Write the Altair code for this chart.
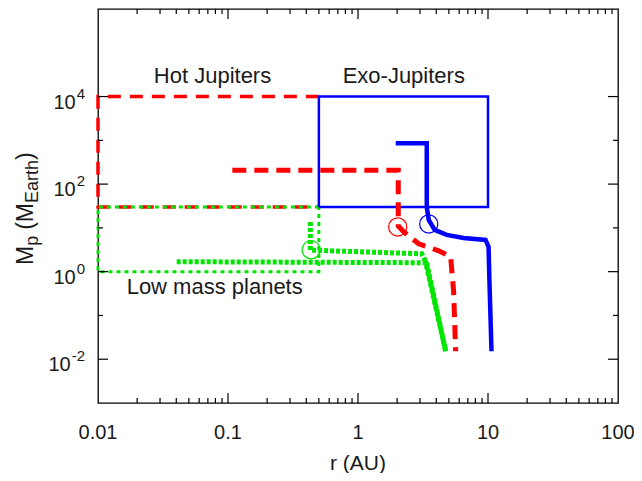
import altair as alt
import pandas as pd

# ---------------- data ----------------
red_box_r = [0.5, 0.01, 0.01, 0.5]
red_box_m = [1e4, 1e4, 30, 30]

green_box_r = [0.5, 0.01, 0.01, 0.5, 0.5]
green_box_m = [30, 30, 1, 1, 30]

blue_box_r = [0.5, 10, 10, 0.5, 0.5]
blue_box_m = [30, 30, 1e4, 1e4, 30]

red_track_r = [0.108, 2.04, 2.04, 2.25, 2.93, 4.18, 5.16, 5.44, 5.64]
red_track_m = [208, 208, 11, 8.1, 4.33, 3.0, 2.19, 0.35, 0.0152]

blue_track_r = [1.95, 3.38, 3.38, 3.5, 3.89, 4.81, 6.49, 9.57, 10.1, 10.26, 10.64]
blue_track_m = [855, 855, 30, 15.2, 9.0, 6.9, 5.9, 5.3, 3.7, 0.59, 0.0152]

green_a_r = [0.43, 0.43, 3.09, 3.38, 4.73]
green_a_m = [13.7, 3.1, 2.56, 1.52, 0.0152]

green_b_r = [0.0403, 3.32, 4.73]
green_b_m = [1.69, 1.60, 0.0152]

circle_names = ["red", "blue", "green"]
circle_r = [2.02, 3.50, 0.436]
circle_m = [10.5, 12.3, 3.16]

label_texts = ["Hot Jupiters", "Exo-Jupiters", "Low mass planets"]
label_r = [0.076, 2.25, 0.079]
label_m = [30000, 30000, 0.457]

x_tick_vals = [0.01, 0.1, 1, 10, 100]
x_tick_text = ["0.01", "0.1", "1", "10", "100"]
y_tick_vals = [1e-2, 1, 1e2, 1e4]
y_tick_exp = ["-2", "0", "2", "4"]
y_minor_vals = [1e-1, 10, 1e3]
x_major_inner = [0.1, 1, 10]
x_minor_vals = [k * d for d in [0.01, 0.1, 1, 10] for k in range(2, 10)]

# ---------------- styling ----------------
W, H = 520, 394
RED, BLUE, GREEN = "#ff0000", "#0000ff", "#00e600"
FONT = "Liberation Sans"
TXT = "#1a1a1a"

xs = alt.Scale(type="log", domain=[0.01, 100], nice=False)
ys = alt.Scale(type="log", domain=[1e-3, 1e6], nice=False)


def line_df(r, m):
    return pd.DataFrame({"r": r, "m": m, "i": list(range(len(r)))})


def line_layer(r, m, color, width, dash=None):
    kw = dict(color=color, strokeWidth=width, strokeCap="butt", strokeJoin="miter")
    if dash is not None:
        kw["strokeDash"] = dash
    return alt.Chart(line_df(r, m)).mark_line(**kw).encode(
        x=alt.X("r:Q", scale=xs, axis=None),
        y=alt.Y("m:Q", scale=ys, axis=None),
        order="i:Q",
    )


layers = []
layers.append(line_layer(red_box_r, red_box_m, RED, 3.5, [13, 9]))
layers.append(line_layer(green_box_r, green_box_m, GREEN, 3, [4, 4]))
layers.append(line_layer(blue_box_r, blue_box_m, BLUE, 2.5))
layers.append(line_layer(red_track_r, red_track_m, RED, 5, [14, 8]))
layers.append(line_layer(green_a_r, green_a_m, GREEN, 5, [4, 2]))
layers.append(line_layer(green_b_r, green_b_m, GREEN, 5, [4, 2]))
layers.append(line_layer(blue_track_r, blue_track_m, BLUE, 4.5))

circ = pd.DataFrame({"name": circle_names, "r": circle_r, "m": circle_m})
layers.append(
    alt.Chart(circ).mark_point(shape="circle", filled=False, size=330, strokeWidth=1.2, opacity=1).encode(
        x=alt.X("r:Q", scale=xs, axis=None),
        y=alt.Y("m:Q", scale=ys, axis=None),
        color=alt.Color("name:N", scale=alt.Scale(domain=["red", "blue", "green"], range=[RED, BLUE, GREEN]), legend=None),
    )
)

lab = pd.DataFrame({"t": label_texts, "r": label_r, "m": label_m})
layers.append(
    alt.Chart(lab).mark_text(font=FONT, fontSize=22, color=TXT, align="center", baseline="middle").encode(
        x=alt.X("r:Q", scale=xs, axis=None),
        y=alt.Y("m:Q", scale=ys, axis=None),
        text="t:N",
    )
)

# ---------------- inward ticks on all four sides ----------------
def yticks(vals, length):
    d = pd.DataFrame({"m": vals})
    left = alt.Chart(d).mark_rule(color="black", strokeWidth=1.2).encode(
        y=alt.Y("m:Q", scale=ys, axis=None), x=alt.value(0), x2=alt.value(length))
    right = alt.Chart(d).mark_rule(color="black", strokeWidth=1.2).encode(
        y=alt.Y("m:Q", scale=ys, axis=None), x=alt.value(W), x2=alt.value(W - length))
    return [left, right]


def xticks(vals, length):
    d = pd.DataFrame({"r": vals})
    bottom = alt.Chart(d).mark_rule(color="black", strokeWidth=1.2).encode(
        x=alt.X("r:Q", scale=xs, axis=None), y=alt.value(H), y2=alt.value(H - length))
    top = alt.Chart(d).mark_rule(color="black", strokeWidth=1.2).encode(
        x=alt.X("r:Q", scale=xs, axis=None), y=alt.value(0), y2=alt.value(length))
    return [bottom, top]


layers += yticks(y_tick_vals, 10)
layers += yticks(y_minor_vals, 5)
layers += xticks(x_major_inner, 10)
layers += xticks(x_minor_vals, 5)

# ---------------- tick labels ----------------
xl = pd.DataFrame({"r": x_tick_vals, "t": x_tick_text})
layers.append(
    alt.Chart(xl).mark_text(font=FONT, fontSize=20, color=TXT, align="center", baseline="middle").encode(
        x=alt.X("r:Q", scale=xs, axis=None), y=alt.value(H + 30), text="t:N")
)

EXP_FS = 15
for v, e in zip(y_tick_vals, y_tick_exp):
    d = pd.DataFrame({"m": [v], "t": ["10"], "e": [e]})
    exp_w = EXP_FS * (0.556 * sum(c.isdigit() for c in e) + 0.333 * e.count("-"))
    exp_right = -13
    layers.append(
        alt.Chart(d).mark_text(font=FONT, fontSize=EXP_FS, color=TXT, align="right", baseline="middle", dy=-3).encode(
            y=alt.Y("m:Q", scale=ys, axis=None), x=alt.value(exp_right), text="e:N")
    )
    layers.append(
        alt.Chart(d).mark_text(font=FONT, fontSize=20, color=TXT, align="right", baseline="middle", dy=6).encode(
            y=alt.Y("m:Q", scale=ys, axis=None), x=alt.value(exp_right - exp_w - 1), text="t:N")
    )

# ---------------- axis titles ----------------
layers.append(
    alt.Chart(pd.DataFrame({"t": ["r (AU)"]})).mark_text(
        font=FONT, fontSize=21, color=TXT, align="center", baseline="middle").encode(
        x=alt.value(W / 2), y=alt.value(H + 61), text="t:N")
)

# y title with subscripts, written bottom-to-top
widths = {"M": 0.833, "p": 0.556, "(": 0.333, ")": 0.333,
          "E": 0.667, "a": 0.556, "r": 0.333, "t": 0.278, "h": 0.556}
MAIN_FS, SUB_FS = 23, 18
pieces = [("M", MAIN_FS, False, 0), ("p", SUB_FS, True, 0), ("(M", MAIN_FS, False, 6),
          ("Earth", SUB_FS, True, 0), (")", MAIN_FS, False, 0)]
ypos = 256
for txt, fs, sub, gap in pieces:
    ypos -= gap
    layers.append(
        alt.Chart(pd.DataFrame({"t": [txt]})).mark_text(
            font=FONT, fontSize=fs, color=TXT, align="left", baseline="alphabetic", angle=270).encode(
            x=alt.value(-60 if sub else -65), y=alt.value(ypos), text="t:N")
    )
    ypos -= fs * sum(widths[c] for c in txt)

chart = alt.layer(*layers).properties(
    width=W, height=H,
    padding={"left": 90, "top": 1, "right": 16, "bottom": 70},
    autosize=alt.AutoSizeParams(type="none"),
).configure_view(stroke="black", strokeWidth=1.3)

chart.save("out.html", embed_options={"renderer": "svg", "actions": False})
